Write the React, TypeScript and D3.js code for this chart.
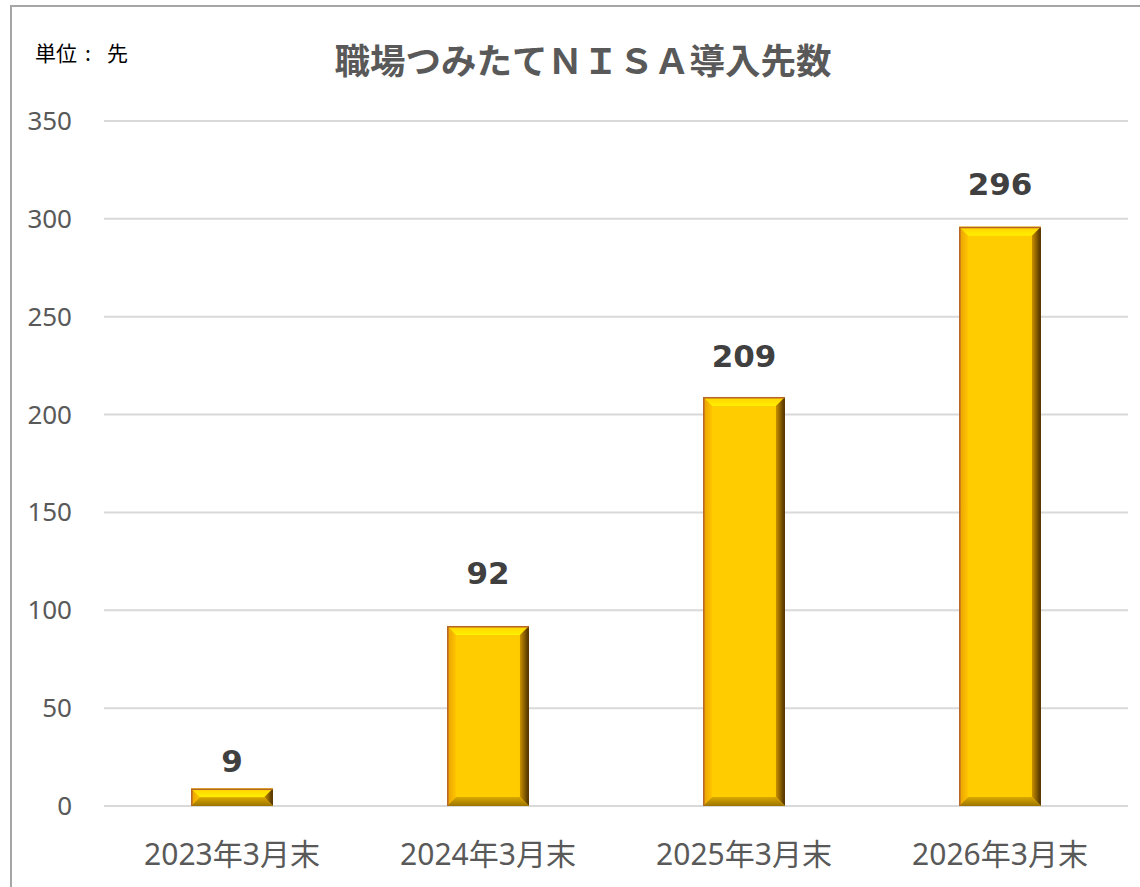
import React from "react";
import * as d3 from "d3";

const categories = ["2023年3月末", "2024年3月末", "2025年3月末", "2026年3月末"];
const values = [9, 92, 209, 296];
const yTicks = [0, 50, 100, 150, 200, 250, 300, 350];
const title = "職場つみたてＮＩＳＡ導入先数";

// layout: vertical gap between each bar top and its value label baseline
const labelGap = [16, 42, 30, 32];

const W = 1140;
const H = 887;
const plot = { left: 104, right: 1128, top: 121, bottom: 806 };

export default function App() {
  const x = d3
    .scaleBand<string>()
    .domain(categories)
    .range([plot.left, plot.right])
    .paddingInner(0.68)
    .paddingOuter(0.34);
  const y = d3.scaleLinear().domain([0, 350]).range([plot.bottom, plot.top]);

  const sans = "'Noto Sans', 'Noto Sans CJK JP', sans-serif";
  const bold = "'DejaVu Sans', sans-serif";
  const cjk = "'Noto Sans CJK JP', sans-serif";

  return (
    <svg
      width={W}
      height={H}
      style={{ position: "absolute", left: 0, top: 0, background: "#fff" }}
    >
      <defs>
        <linearGradient id="topG" x1="0" y1="0" x2="0" y2="1">
          <stop offset="0%" stopColor="#FFD000" />
          <stop offset="100%" stopColor="#FFF000" />
        </linearGradient>
        <linearGradient id="rightG" x1="0" y1="0" x2="1" y2="0">
          <stop offset="0%" stopColor="#C99000" />
          <stop offset="100%" stopColor="#4A2E00" />
        </linearGradient>
        <linearGradient id="leftG" x1="0" y1="0" x2="1" y2="0">
          <stop offset="0%" stopColor="#E8A000" />
          <stop offset="100%" stopColor="#FFC400" />
        </linearGradient>
        <linearGradient id="botG" x1="0" y1="0" x2="0" y2="1">
          <stop offset="0%" stopColor="#D9A800" />
          <stop offset="100%" stopColor="#9C7400" />
        </linearGradient>
      </defs>
      <rect x={0} y={0} width={W} height={H} fill="#fff" />
      <rect
        x={11}
        y={6}
        width={W + 20}
        height={H + 20}
        fill="none"
        stroke="#A6A6A6"
        strokeWidth={2}
      />
      <g fontFamily={cjk} fontSize={21} fill="#000">
        <text x={35} y={61}>単位</text>
        <text x={88} y={61} textAnchor="middle">:</text>
        <text x={107} y={61}>先</text>
      </g>
      <text
        x={583}
        y={74}
        fontFamily={cjk}
        fontWeight="bold"
        fontSize={35.5}
        fill="#595959"
        textAnchor="middle"
      >
        {title}
      </text>
      {yTicks.map((t) => (
        <g key={t}>
          <line
            x1={plot.left}
            x2={plot.right}
            y1={y(t)}
            y2={y(t)}
            stroke="#D9D9D9"
            strokeWidth={2}
          />
          <text
            x={72}
            y={y(t) + 9}
            fontFamily={sans}
            fontSize={26}
            fill="#595959"
            textAnchor="end"
          >
            {t}
          </text>
        </g>
      ))}
      {categories.map((c, i) => {
        const x0 = x(c)!;
        const x1 = x0 + x.bandwidth();
        const y0 = y(values[i]);
        const y1 = y(0);
        const b = Math.min(9, (y1 - y0) / 2);
        const cx = x0 + x.bandwidth() / 2;
        return (
          <g key={c}>
            <rect x={x0} y={y0} width={x1 - x0} height={y1 - y0} fill="#FFCC00" />
            <polygon
              points={`${x0},${y0} ${x1},${y0} ${x1 - b},${y0 + b} ${x0 + b},${y0 + b}`}
              fill="url(#topG)"
            />
            <polygon
              points={`${x0},${y0} ${x0 + b},${y0 + b} ${x0 + b},${y1 - b} ${x0},${y1}`}
              fill="url(#leftG)"
            />
            <polygon
              points={`${x1},${y0} ${x1},${y1} ${x1 - b},${y1 - b} ${x1 - b},${y0 + b}`}
              fill="url(#rightG)"
            />
            <polygon
              points={`${x0},${y1} ${x1},${y1} ${x1 - b},${y1 - b} ${x0 + b},${y1 - b}`}
              fill="url(#botG)"
            />
            <path
              d={`M${x0 + 0.75},${y1} V${y0 + 0.75} H${x1}`}
              fill="none"
              stroke="#B5652A"
              strokeWidth={1.5}
            />
            <text
              x={cx}
              y={y0 - labelGap[i]}
              fontFamily={bold}
              fontWeight="bold"
              fontSize={31}
              fill="#404040"
              textAnchor="middle"
            >
              {values[i]}
            </text>
            <text
              x={cx}
              y={865}
              fontFamily={sans}
              fontSize={30}
              fill="#595959"
              textAnchor="middle"
            >
              {c}
            </text>
          </g>
        );
      })}
    </svg>
  );
}
